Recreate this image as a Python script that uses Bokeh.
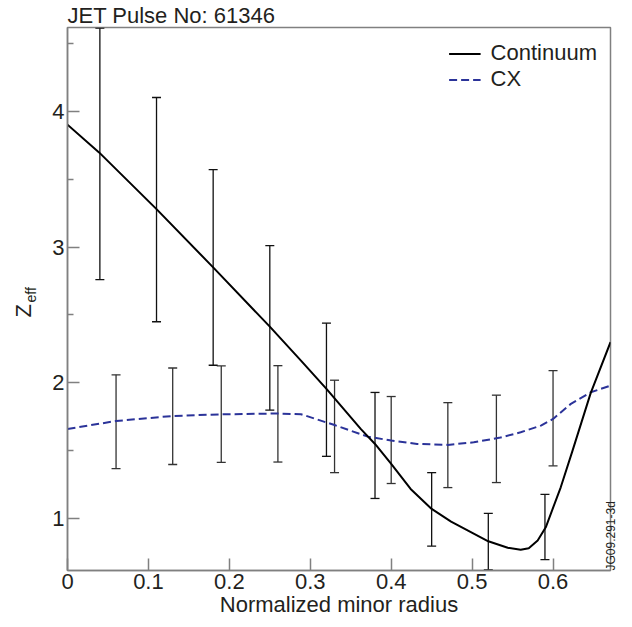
import math
from bokeh.plotting import figure
from bokeh.models import FixedTicker, Label, Legend, LegendItem, Range1d
from bokeh.embed import file_html
from bokeh.resources import INLINE

# ---- data ----
cont_x = [0.0, 0.039, 0.11, 0.18, 0.25, 0.2885, 0.32, 0.3626, 0.38, 0.40, 0.424,
          0.45, 0.474, 0.52, 0.544, 0.56, 0.57, 0.581, 0.591, 0.6095, 0.624, 0.6465, 0.671]
cont_y = [3.90, 3.696, 3.279, 2.85, 2.414, 2.164, 1.956, 1.66, 1.551, 1.404, 1.22,
          1.073, 0.98, 0.835, 0.787, 0.772, 0.784, 0.84, 0.938, 1.232, 1.50, 1.925, 2.30]

cx_x = [0.0, 0.06, 0.13, 0.19, 0.26, 0.2885, 0.33, 0.371, 0.40, 0.432, 0.47,
        0.502, 0.535, 0.56, 0.585, 0.60, 0.622, 0.6465, 0.671]
cx_y = [1.661, 1.72, 1.757, 1.769, 1.775, 1.77, 1.69, 1.605, 1.576, 1.551, 1.544,
        1.563, 1.598, 1.637, 1.686, 1.735, 1.846, 1.931, 1.98]

cont_err_x = [0.04, 0.11, 0.18, 0.25, 0.32, 0.38, 0.45, 0.52, 0.59]
cont_err_hi = [4.61, 4.10, 3.57, 3.01, 2.44, 1.93, 1.34, 1.04, 1.18]
cont_err_lo = [2.76, 2.45, 2.13, 1.80, 1.46, 1.15, 0.80, 0.625, 0.70]

cx_err_x = [0.06, 0.13, 0.19, 0.26, 0.33, 0.40, 0.47, 0.53, 0.60]
cx_err_hi = [2.06, 2.11, 2.125, 2.127, 2.02, 1.90, 1.855, 1.91, 2.09]
cx_err_lo = [1.37, 1.40, 1.415, 1.418, 1.34, 1.26, 1.23, 1.267, 1.39]

x_ticks = [0.0, 0.1, 0.2, 0.3, 0.4, 0.5, 0.6]
x_tick_labels = ["0", "0.1", "0.2", "0.3", "0.4", "0.5", "0.6"]
y_ticks = [1, 2, 3, 4]
y_minor = [1.5, 2.5, 3.5, 4.5]

FONT = "Liberation Sans"
TXT = "#231f20"
AX = "#808080"
BLUE = "#2b3399"

p = figure(frame_width=543, frame_height=543,
           min_border_left=67, min_border_right=22, min_border_top=27, min_border_bottom=57,
           x_range=Range1d(0, 0.671), y_range=Range1d(0.62, 4.615),
           output_backend="svg", toolbar_location=None)
p.xgrid.visible = False
p.ygrid.visible = False
p.outline_line_color = AX
p.outline_line_width = 1.5
p.background_fill_color = "white"
p.border_fill_color = "white"

p.title.text = "JET Pulse No: 61346"
p.title.align = "left"
p.title.text_font = FONT
p.title.text_font_size = "22px"
p.title.text_font_style = "normal"
p.title.text_color = TXT
p.title.standoff = 0
p.title.offset = 0

p.xaxis.ticker = FixedTicker(ticks=x_ticks, minor_ticks=[])
p.xaxis.major_label_overrides = {t: l for t, l in zip(x_ticks, x_tick_labels)}
p.yaxis.ticker = FixedTicker(ticks=y_ticks, minor_ticks=y_minor)
p.yaxis.major_label_overrides = {t: str(t) for t in y_ticks}
for ax in (p.xaxis[0], p.yaxis[0]):
    ax.axis_line_color = AX
    ax.axis_line_width = 1.5
    ax.major_tick_line_color = AX
    ax.major_tick_line_width = 1.5
    ax.minor_tick_line_color = AX
    ax.minor_tick_line_width = 1.5
    ax.major_tick_in = 12
    ax.major_tick_out = 0
    ax.minor_tick_in = 6
    ax.minor_tick_out = 0
    ax.major_label_text_font = FONT
    ax.major_label_text_font_size = "22px"
    ax.major_label_text_color = TXT
    ax.axis_label_text_font = FONT
    ax.axis_label_text_font_size = "22px"
    ax.axis_label_text_font_style = "normal"
    ax.axis_label_text_color = TXT
p.xaxis.axis_label = "Normalized minor radius"
p.xaxis.major_label_standoff = 3
p.xaxis.axis_label_standoff = 0
p.yaxis.major_label_standoff = 3

# error bars
p.segment(x0=cx_err_x, y0=cx_err_lo, x1=cx_err_x, y1=cx_err_hi, line_color="#333333", line_width=1.3)
p.scatter(x=cx_err_x + cx_err_x, y=cx_err_hi + cx_err_lo, marker="dash", size=9,
          line_color="#333333", line_width=1.3)
p.segment(x0=cont_err_x, y0=cont_err_lo, x1=cont_err_x, y1=cont_err_hi, line_color="#111111", line_width=1.3)
p.scatter(x=cont_err_x + cont_err_x, y=cont_err_hi + cont_err_lo, marker="dash", size=9,
          line_color="#111111", line_width=1.3)

# curves
r_cx = p.line(cx_x, cx_y, line_color=BLUE, line_width=2, line_dash="8 4")
r_cont = p.line(cont_x, cont_y, line_color="black", line_width=2)

legend = Legend(items=[LegendItem(label="Continuum", renderers=[r_cont]),
                       LegendItem(label="CX", renderers=[r_cx])],
                location="top_right", margin=13, padding=6, spacing=0,
                label_text_font=FONT, label_text_font_size="22px", label_text_color=TXT,
                label_standoff=10, glyph_width=32, glyph_height=25, label_height=25,
                border_line_color=None, background_fill_alpha=0)
p.add_layout(legend)

# y axis label Z_eff (side panel labels)
p.add_layout(Label(x=-1, y=253, x_units="screen", y_units="screen", text="Z", angle=math.pi / 2,
                   text_font=FONT, text_font_size="22px", text_color=TXT,
                   text_align="left", text_baseline="alphabetic"), "left")
p.add_layout(Label(x=22, y=268, x_units="screen", y_units="screen", text="eff", angle=math.pi / 2,
                   text_font=FONT, text_font_size="14px", text_color=TXT,
                   text_align="left", text_baseline="alphabetic"), "left")
# figure code
p.add_layout(Label(x=0, y=0, x_units="screen", y_units="screen", text="JG09.291-3d", angle=math.pi / 2,
                   text_font=FONT, text_font_size="12px", text_color=TXT,
                   text_align="left", text_baseline="alphabetic"), "right")

open("out.html", "w").write(file_html(p, INLINE))
